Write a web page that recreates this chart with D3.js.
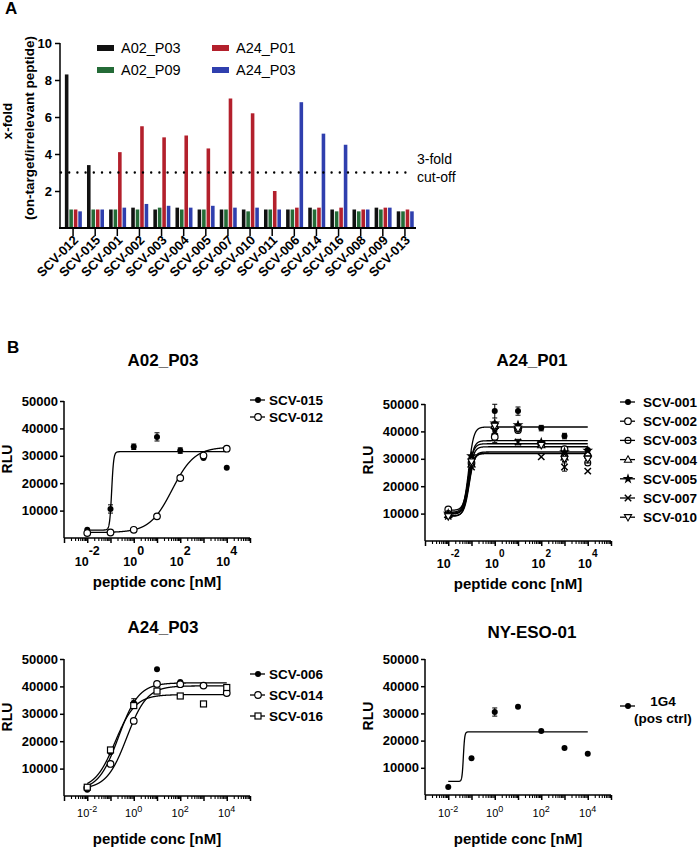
<!DOCTYPE html>
<html><head><meta charset="utf-8">
<script src="https://cdn.jsdelivr.net/npm/d3@7"></script>
<style>
body{margin:0;background:#fff}
svg{font-family:"Liberation Sans",Arial,sans-serif}
</style>
</head><body>
<svg id="c" width="700" height="848"></svg>
<script>
// ---------------- Panel A data ----------------
const categories = ["SCV-012","SCV-015","SCV-001","SCV-002","SCV-003","SCV-004","SCV-005","SCV-007","SCV-010","SCV-011","SCV-006","SCV-014","SCV-016","SCV-008","SCV-009","SCV-013"];
const seriesA = ["A02_P03","A02_P09","A24_P01","A24_P03"];
const valsA02_P03 = [8.3,3.4,1.0,1.1,1.0,1.1,1.0,1.0,1.0,1.0,1.0,1.1,1.0,1.0,1.1,0.9];
const valsA02_P09 = [1.0,1.0,1.0,1.0,1.1,1.0,1.0,1.0,0.9,1.0,1.0,1.0,0.9,0.9,1.0,0.9];
const valsA24_P01 = [1.0,1.0,4.1,5.5,4.9,5.0,4.3,7.0,6.2,2.0,1.1,1.1,1.1,1.0,1.1,1.0];
const valsA24_P03 = [0.9,1.0,1.1,1.3,1.2,1.1,1.2,1.1,1.1,1.0,6.8,5.1,4.5,1.0,1.1,0.9];
const yTicksA = [2,4,6,8,10];
const cutoff = 3;

// ---------------- Panel B data ----------------
const concs = [0.01,0.1,1,10,100,1000,10000];
const rluTicks = [10000,20000,30000,40000,50000];
const logLabelExps = [-2,0,2,4];

// A02_P03
const p1Names = ["SCV-015","SCV-012"];
const p1Vals = [[3000,10600,33300,36900,31900,29200,25600],[1800,2000,3000,7900,21900,30100,32600]];
const p1Errs = [[0,1500,1000,1500,1000,0,0],[0,0,0,0,0,0,0]];
const p1Fits = [[2900,31500,-0.95,10],[2000,33200,1.65,0.9]]; // bottom, top, logEC50, hill

// A24_P01
const p2Names = ["SCV-001","SCV-002","SCV-003","SCV-004","SCV-005","SCV-007","SCV-010"];
const p2Vals = [
  [10500,30500,47400,47400,41200,38300,33200],
  [11500,28500,38000,40500,35500,33500,31000],
  [10000,29500,41500,41000,35500,31000,28500],
  [9500,28000,42000,42000,35000,30500,32000],
  [10000,31000,43000,42300,36000,32500,33000],
  [9000,27000,40000,36100,30700,27000,25500],
  [9000,29000,42000,41000,35000,30000,30000]];
const p2Errs = [
  [0,0,2500,1500,1000,1000,0],
  [0,0,2000,1000,0,0,0],
  [0,0,1000,1000,0,2000,0],
  [0,0,1500,0,0,0,0],
  [0,0,0,0,0,0,0],
  [0,0,0,1000,0,1500,0],
  [0,2000,0,0,0,0,0]];
const p2Fits = [
  [10500,41600,-1.12,4],
  [11200,36600,-1.12,4],
  [10000,35500,-1.14,4],
  [9800,34400,-1.12,4],
  [10200,32500,-1.10,4],
  [9200,32100,-1.10,4],
  [9000,31900,-1.13,4]];

// A24_P03
const p3Names = ["SCV-006","SCV-014","SCV-016"];
const p3Vals = [[2300,16000,34000,46300,41600,40500,38500],[3000,11700,27400,40900,40800,40300,37600],[3200,16800,33000,38300,36500,33600,39600]];
const p3Errs = [[0,0,1500,0,0,0,0],[0,0,0,0,0,0,0],[0,0,0,0,0,0,0]];
const p3Fits = [[2000,41300,-0.65,1.0],[2500,40200,-0.3,1.0],[2500,37000,-0.8,1.0]];

// NY-ESO-01
const p4Names = ["1G4"];
const p4Vals = [[2900,13500,30500,32400,23500,17300,15200]];
const p4Errs = [[0,0,1500,0,0,0,0]];
const p4Fits = [[5000,23200,-1.35,15]];

// ---------------- Drawing ----------------
const svg = d3.select("#c");
const colorsA = ["#111111","#246b37","#b3202c","#2f3fae"];
const valuesA = [valsA02_P03,valsA02_P09,valsA24_P01,valsA24_P03];

// Panel A
svg.append("text").attr("x",5).attr("y",14).attr("font-size",17).attr("font-weight","bold").text("A");
const xA = d3.scaleBand().domain(categories).range([62,416]);
const subA = d3.scaleBand().domain(seriesA).range([-8.5,8.5]).paddingInner(0.2);
const yA = d3.scaleLinear().domain([0,10]).range([228,43]);
const gA = svg.append("g");
seriesA.forEach((s,i)=>{
  gA.selectAll(null).data(valuesA[i]).join("rect")
    .attr("x",(d,j)=>xA(categories[j])+xA.bandwidth()/2+0.3+subA(s))
    .attr("y",d=>yA(d))
    .attr("width",subA.bandwidth())
    .attr("height",d=>yA(0)-yA(d))
    .attr("fill",colorsA[i]);
});
// y axis
const yAxA = svg.append("g").attr("transform","translate(60,0)")
  .call(d3.axisLeft(yA).tickValues(yTicksA).tickSize(5).tickSizeOuter(0).tickPadding(3));
yAxA.select(".domain").remove();
yAxA.selectAll("line").attr("stroke","#000").attr("stroke-width",1.5);
yAxA.selectAll("text").attr("font-size",13).attr("font-weight","bold").attr("font-family","Liberation Sans, Arial, sans-serif").attr("fill","#000");
svg.append("line").attr("x1",60).attr("x2",60).attr("y1",yA(10)).attr("y2",yA(0)+1).attr("stroke","#000").attr("stroke-width",1.5);
// x axis
const xAxA = svg.append("g").attr("transform",`translate(0,${yA(0)})`)
  .call(d3.axisBottom(xA).tickSize(8).tickSizeOuter(0).tickFormat(""));
xAxA.select(".domain").remove();
xAxA.selectAll("line").attr("stroke","#000").attr("stroke-width",1.5);
svg.append("line").attr("x1",59).attr("x2",416).attr("y1",yA(0)).attr("y2",yA(0)).attr("stroke","#000").attr("stroke-width",1.8);
svg.append("g").selectAll("text").data(categories).join("text")
  .attr("transform",d=>`translate(${xA(d)+xA.bandwidth()/2+6},${yA(0)+13}) rotate(-45)`)
  .attr("text-anchor","end").attr("font-size",13).attr("font-weight","bold").text(d=>d);
// cut-off
svg.append("line").attr("x1",61).attr("x2",407).attr("y1",yA(cutoff)).attr("y2",yA(cutoff))
  .attr("stroke","#000").attr("stroke-width",2.4).attr("stroke-linecap","round").attr("stroke-dasharray","0 8.2");
svg.append("text").attr("x",417).attr("y",164).attr("font-size",14).text("3-fold");
svg.append("text").attr("x",417).attr("y",182).attr("font-size",14).text("cut-off");
// y label
svg.append("text").attr("transform","translate(12,121) rotate(-90)").attr("text-anchor","middle").attr("font-size",13.5).attr("font-weight","bold").text("x-fold");
svg.append("text").attr("transform","translate(34,128) rotate(-90)").attr("text-anchor","middle").attr("font-size",13.5).attr("font-weight","bold").text("(on-target/irrelevant peptide)");
// legend A
const legPos = [[97,48],[97,70],[212,48],[212,70]];
seriesA.forEach((s,i)=>{
  const [lx,ly]=legPos[i];
  svg.append("rect").attr("x",lx).attr("y",ly-3).attr("width",17).attr("height",6).attr("fill",colorsA[i]);
  svg.append("text").attr("x",lx+24).attr("y",ly+5).attr("font-size",14.5).text(s);
});

// Panel B
svg.append("text").attr("x",7).attr("y",353).attr("font-size",17).attr("font-weight","bold").text("B");

function marker(g, type, x, y){
  if(type==="filled"){ g.append("circle").attr("cx",x).attr("cy",y).attr("r",3).attr("fill","#000"); }
  else if(type==="open"){ g.append("circle").attr("cx",x).attr("cy",y).attr("r",3.3).attr("fill","#fff").attr("stroke","#000").attr("stroke-width",1.2); }
  else if(type==="openbar"){ g.append("circle").attr("cx",x).attr("cy",y).attr("r",3).attr("fill","#fff").attr("stroke","#000").attr("stroke-width",1.1);
    g.append("line").attr("x1",x-3).attr("x2",x+3).attr("y1",y).attr("y2",y).attr("stroke","#000").attr("stroke-width",1.2); }
  else if(type==="triup"){ g.append("path").attr("d",`M${x},${y-3.8}L${x+3.6},${y+2.6}L${x-3.6},${y+2.6}Z`).attr("fill","#fff").attr("stroke","#000").attr("stroke-width",1.1); }
  else if(type==="tridown"){ g.append("path").attr("d",`M${x},${y+3.8}L${x+3.6},${y-2.6}L${x-3.6},${y-2.6}Z`).attr("fill","#fff").attr("stroke","#000").attr("stroke-width",1.1); }
  else if(type==="star"){ g.append("path").attr("transform",`translate(${x},${y})`).attr("d",d3.symbol(d3.symbolStar,36)()).attr("fill","#000"); }
  else if(type==="cross"){ g.append("path").attr("d",`M${x-3.2},${y-3.2}L${x+3.2},${y+3.2}M${x-3.2},${y+3.2}L${x+3.2},${y-3.2}`).attr("stroke","#000").attr("stroke-width",1.5); }
  else if(type==="square"){ g.append("rect").attr("x",x-3).attr("y",y-3).attr("width",6).attr("height",6).attr("fill","#fff").attr("stroke","#000").attr("stroke-width",1.2); }
}

function panel(cfg){
  const g = svg.append("g");
  const x = d3.scaleLog().domain([1e-3,1e5]).range([cfg.x0,cfg.x1]);
  const y = d3.scaleLinear().domain([0,50000]).range([cfg.yb,cfg.yt]);
  g.append("text").attr("x",cfg.tx).attr("y",cfg.ty).attr("text-anchor","middle").attr("font-size",17).attr("font-weight","bold").text(cfg.title);
  const ya = g.append("g").attr("transform",`translate(${cfg.x0},0)`).call(d3.axisLeft(y).tickValues(rluTicks).tickSize(4).tickSizeOuter(0).tickPadding(2).tickFormat(d3.format("d")));
  ya.select(".domain").remove();
  ya.selectAll("line").attr("stroke","#000").attr("stroke-width",1.5);
  ya.selectAll("text").attr("font-size",13).attr("font-weight","bold").attr("font-family","Liberation Sans, Arial, sans-serif").attr("fill","#000");
  g.append("line").attr("x1",cfg.x0).attr("x2",cfg.x0).attr("y1",cfg.yt).attr("y2",cfg.yb).attr("stroke","#000").attr("stroke-width",1.5);
  const majors = d3.range(-3,6).map(e=>Math.pow(10,e));
  const minors = [];
  d3.range(-3,5).forEach(e=>{ for(let k=2;k<=9;k++) minors.push(k*Math.pow(10,e)); });
  const xa = g.append("g").attr("transform",`translate(0,${cfg.yb})`).call(d3.axisBottom(x).tickValues(majors).tickSize(5).tickSizeOuter(0).tickFormat(""));
  xa.select(".domain").remove(); xa.selectAll("line").attr("stroke","#000").attr("stroke-width",1.5);
  const xm = g.append("g").attr("transform",`translate(0,${cfg.yb})`).call(d3.axisBottom(x).tickValues(minors).tickSize(3).tickSizeOuter(0).tickFormat(""));
  xm.select(".domain").remove(); xm.selectAll("line").attr("stroke","#000").attr("stroke-width",1.1);
  g.append("line").attr("x1",cfg.x0).attr("x2",cfg.x1).attr("y1",cfg.yb).attr("y2",cfg.yb).attr("stroke","#000").attr("stroke-width",1.5);
  logLabelExps.forEach(e=>{
    const t = g.append("text").attr("x",x(Math.pow(10,e))).attr("y",cfg.lb).attr("text-anchor","middle")
      .attr("font-size",cfg.lf).attr("font-weight",cfg.lw);
    t.append("tspan").text("10");
    t.append("tspan").attr("dy",cfg.edy).attr("font-size",cfg.ef).text(String(e));
  });
  g.append("text").attr("x",(cfg.x0+cfg.x1)/2).attr("y",cfg.xlb).attr("text-anchor","middle").attr("font-size",15).attr("font-weight","bold").text("peptide conc [nM]");
  g.append("text").attr("transform",`translate(${cfg.rx},${cfg.ry}) rotate(-90)`).attr("text-anchor","middle").attr("font-size",14).attr("font-weight","bold").text("RLU");
  const line = d3.line().x(d=>x(d[0])).y(d=>y(d[1]));
  cfg.fits.forEach(f=>{
    const [b,t,ec,h]=f;
    const pts = d3.range(-2,4.0001,0.005).map(lx=>[Math.pow(10,lx), b+(t-b)/(1+Math.pow(10,(ec-lx)*h))]);
    g.append("path").attr("d",line(pts)).attr("fill","none").attr("stroke","#000").attr("stroke-width",1.3);
  });
  cfg.vals.forEach((vs,i)=>{
    vs.forEach((v,j)=>{
      const e = cfg.errs[i][j];
      if(e>0){
        const xx=x(concs[j]);
        g.append("path").attr("d",`M${xx},${y(v-e)}V${y(v+e)}M${xx-2.5},${y(v+e)}H${xx+2.5}M${xx-2.5},${y(v-e)}H${xx+2.5}`).attr("stroke","#000").attr("stroke-width",1).attr("fill","none");
      }
    });
  });
  cfg.vals.forEach((vs,i)=>{
    vs.forEach((v,j)=>marker(g,cfg.syms[i],x(concs[j]),y(v)));
  });
  cfg.names.forEach((n,i)=>{
    const ly = cfg.ly0 + cfg.ldy*i;
    g.append("line").attr("x1",cfg.lx-8).attr("x2",cfg.lx+7).attr("y1",ly).attr("y2",ly).attr("stroke","#000").attr("stroke-width",1.3);
    marker(g,cfg.syms[i],cfg.lx,ly);
    if(!cfg.legendCentered){
      g.append("text").attr("x",cfg.lx+cfg.ltx).attr("y",ly+5).attr("font-size",13.5).attr("font-weight","bold").text(n);
    }
  });
  return g;
}

panel({title:"A02_P03",tx:163,ty:366,x0:64,x1:250,yb:538,yt:401,lb:566,lf:12.5,lw:"bold",ef:12.5,edy:-11,xlb:587,rx:12,ry:459,
  names:p1Names,vals:p1Vals,errs:p1Errs,fits:p1Fits,syms:["filled","open"],lx:258,ly0:400,ldy:17,ltx:11});
panel({title:"A24_P01",tx:532,ty:366,x0:425,x1:611,yb:541,yt:404,lb:568,lf:12.5,lw:"bold",ef:10,edy:-11,xlb:589,rx:373,ry:460,
  names:p2Names,vals:p2Vals,errs:p2Errs,fits:p2Fits,syms:["filled","open","openbar","triup","star","cross","tridown"],lx:628,ly0:402,ldy:19.2,ltx:15});
panel({title:"A24_P03",tx:163,ty:633,x0:64,x1:250,yb:796,yt:659,lb:817,lf:11,lw:"normal",ef:9,edy:-5,xlb:844,rx:12,ry:717,
  names:p3Names,vals:p3Vals,errs:p3Errs,fits:p3Fits,syms:["filled","open","square"],lx:258,ly0:674,ldy:21,ltx:11});
const g4 = panel({title:"NY-ESO-01",tx:532,ty:638,x0:425,x1:611,yb:795,yt:659,lb:817,lf:11,lw:"normal",ef:9,edy:-5,xlb:844,rx:373,ry:716,
  names:p4Names,vals:p4Vals,errs:p4Errs,fits:p4Fits,syms:["filled"],lx:628,ly0:706,ldy:0,ltx:0,legendCentered:true});
g4.append("text").attr("x",663).attr("y",706).attr("text-anchor","middle").attr("font-size",13.5).attr("font-weight","bold").text("1G4");
g4.append("text").attr("x",663).attr("y",723).attr("text-anchor","middle").attr("font-size",13.5).attr("font-weight","bold").text("(pos ctrl)");
</script>
</body></html>
